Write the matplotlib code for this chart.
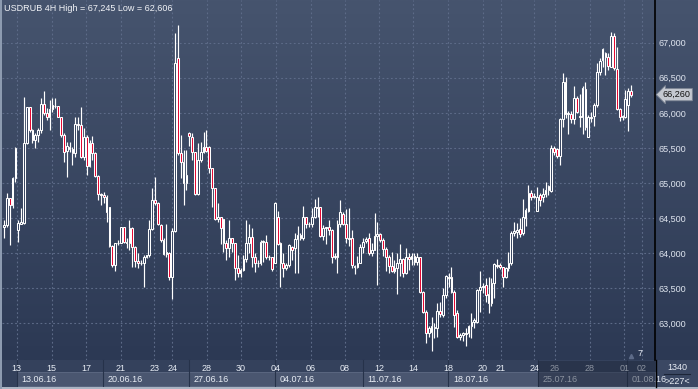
import numpy as np
import matplotlib
matplotlib.use('Agg')
import matplotlib.pyplot as plt
from matplotlib.patches import Rectangle
from matplotlib.colors import LinearSegmentedColormap
import matplotlib.transforms as mtransforms
from matplotlib.ticker import FuncFormatter

plt.rcParams['font.family'] = ['Liberation Sans', 'DejaVu Sans']

opens = [64378, 64402, 64782, 64687, 65067, 64331, 64416, 64426, 65566, 66078,
         65756, 65613, 65684, 65756, 66126, 65993, 65936, 66050, 66098, 66098,
         65946, 65684, 65461, 65518, 65480, 65423, 65841, 65827, 65376, 65660,
         65243, 65566, 65433, 65100, 64844, 64829, 64806, 64663, 64103, 63832,
         64141, 64150, 64369, 64164, 64150, 64355, 64093, 63894, 63856, 63865,
         63951, 63975, 64340, 64758, 64720, 64402, 64188, 63989, 64008, 63656,
         64321, 66777, 65423, 65304, 64996, 65708, 65651, 65447, 64844, 65328,
         65447, 65518, 65518, 65209, 64924, 64483, 64521, 64483, 64150, 64069,
         64212, 64141, 63784, 63713, 63761, 63913, 64141, 64236, 63941, 63865,
         63856, 64164, 64164, 63951, 63941, 63865, 64511, 64150, 63856, 63784,
         63832, 64093, 64069, 64198, 64259, 64212, 64511, 64416, 64416, 64521,
         64654, 64654, 64245, 64355, 64378, 64331, 63941, 63941, 64416, 64559,
         64416, 64212, 64212, 63817, 63798, 63865, 64093, 64178, 64212, 63998,
         64046, 64245, 64274, 64188, 64055, 63941, 63817, 63751, 63784, 63865,
         63922, 63713, 63941, 63913, 63960, 63879, 63941, 63452, 63170, 62858,
         62882, 62929, 62929, 63181, 63119, 63404, 63641, 63665, 63452, 63143,
         62810, 62834, 62849, 62858, 62963, 63025, 63025, 63476, 63523, 63547,
         63419, 63295, 63570, 63832, 63832, 63798, 63656, 63784, 63856, 64293,
         64307, 64340, 64283, 64497, 64606, 64853, 64806, 64606, 64829, 64806,
         64844, 64900, 64891, 65494, 65480, 65385, 65908, 66444, 65984, 65984,
         65908, 66207, 65946, 65946, 66335, 65660, 65922, 65955, 66112, 66587,
         66753, 66858, 66791, 66658, 67095, 66620, 66050, 65936, 65946, 66112,
         66316]

closes = [64402, 64782, 64687, 65067, 65494, 64426, 64449, 65566, 66078, 65756,
          65613, 65684, 65756, 66126, 65993, 65936, 66050, 66112, 66105, 65946,
          65684, 65447, 65528, 65480, 65423, 65841, 65827, 65376, 65660, 65243,
          65566, 65433, 65100, 64844, 64829, 64806, 64592, 64103, 63832, 64141,
          64150, 64369, 64164, 64150, 64355, 64093, 63894, 63856, 63865, 63951,
          63975, 64340, 64758, 64720, 64416, 64188, 63989, 64022, 63656, 64321,
          66706, 65423, 65304, 64996, 65114, 65670, 65447, 64844, 65328, 65447,
          65518, 65461, 65209, 64924, 64483, 64521, 64355, 64150, 64069, 64212,
          64141, 63784, 63713, 63761, 63913, 64141, 64236, 63941, 63865, 63856,
          64164, 64170, 63951, 63941, 63770, 64720, 64131, 63856, 63784, 63832,
          64117, 64046, 64198, 64259, 64212, 64511, 64416, 64420, 64521, 64654,
          64650, 64245, 64355, 64369, 64331, 63941, 63960, 64416, 64592, 64416,
          64212, 64205, 63832, 63808, 63865, 64093, 64164, 64207, 63998, 64046,
          64245, 64274, 64188, 64055, 63941, 63817, 63751, 63784, 63865, 63922,
          63713, 63941, 63913, 63960, 63879, 63941, 63452, 63170, 62858, 62929,
          62963, 62953, 63181, 63133, 63404, 63675, 63665, 63452, 63119, 62810,
          62834, 62858, 62868, 62963, 63025, 63048, 63476, 63523, 63533, 63404,
          63295, 63570, 63846, 63817, 63798, 63656, 63784, 63856, 64293, 64321,
          64331, 64274, 64511, 64616, 64853, 64796, 64815, 64806, 64758, 64844,
          64900, 64958, 65494, 65447, 65385, 65908, 66444, 65984, 65993, 65908,
          66207, 66017, 65955, 66349, 65794, 65946, 65946, 66112, 66587, 66744,
          66905, 66801, 66668, 67095, 66634, 66050, 65936, 65955, 66193, 66316,
          66260]

highs = [64473, 64853, 64782, 65091, 65518, 64473, 64639, 66231, 66078, 66078,
         65765, 65708, 65779, 66207, 66316, 66064, 66183, 66207, 66207, 66098,
         65946, 65708, 65589, 65589, 65518, 65946, 65946, 66078, 65779, 65684,
         65613, 65670, 65447, 65114, 64853, 64877, 64829, 64663, 64117, 64150,
         64188, 64378, 64378, 64212, 64473, 64378, 64103, 63998, 63903, 63975,
         63975, 64473, 64924, 65091, 64735, 64416, 64212, 64416, 64022, 64355,
         67133, 67245, 65684, 65471, 65471, 65732, 65708, 65447, 65566, 65589,
         65732, 65756, 65528, 65209, 64924, 64711, 64521, 64483, 64188, 64473,
         64212, 64150, 63975, 63784, 63975, 64473, 64416, 64355, 63998, 63903,
         64188, 64188, 64259, 63975, 63951, 64735, 64606, 64164, 63998, 63856,
         64131, 64103, 64283, 64388, 64283, 64673, 64521, 64449, 64639, 64768,
         64806, 64663, 64402, 64378, 64473, 64340, 63998, 64473, 64758, 64592,
         64625, 64639, 64331, 63832, 63960, 64131, 64212, 64236, 64283, 64141,
         64578, 64449, 64283, 64212, 64093, 63975, 64022, 63903, 63998, 64131,
         63927, 64069, 63998, 63998, 64008, 64008, 63951, 63466, 63190, 62963,
         63095, 63000, 63285, 63309, 63499, 63689, 63713, 63798, 63476, 63190,
         62858, 62882, 62929, 62977, 63143, 63072, 63485, 63751, 63570, 63641,
         63665, 63641, 63865, 63913, 63856, 63808, 63808, 64022, 64321, 64449,
         64435, 64497, 64768, 64639, 64972, 64900, 64853, 64948, 64853, 64924,
         65019, 64972, 65542, 65528, 65494, 65922, 66563, 66516, 66031, 66031,
         66383, 66240, 66269, 66383, 66444, 65969, 66017, 66135, 66706, 66777,
         66919, 66872, 66848, 67157, 67133, 66943, 66064, 65969, 66326, 66349,
         66397]

lows = [64212, 64378, 64117, 64639, 65019, 64164, 64416, 64416, 65556, 65732,
        65575, 65494, 65589, 65708, 65969, 65898, 65756, 66017, 66064, 65936,
        65660, 65304, 65091, 65447, 65257, 65376, 65756, 65352, 65328, 65114,
        65233, 65328, 65091, 64758, 64687, 64711, 64449, 64093, 63808, 63751,
        64117, 64141, 64150, 64069, 64046, 63808, 63808, 63784, 63832, 63523,
        63927, 63941, 64331, 64687, 64402, 64164, 63975, 63951, 63618, 63343,
        64307, 65399, 65067, 64687, 64901, 65528, 65328, 64829, 64829, 65304,
        65433, 65447, 65148, 64663, 64473, 64449, 64131, 64022, 63903, 63941,
        64022, 63618, 63666, 63656, 63751, 63879, 63998, 63798, 63737, 63808,
        63832, 63879, 63913, 63903, 63751, 63856, 64117, 63523, 63665, 63761,
        63808, 63903, 63723, 63723, 64188, 64188, 64355, 64378, 64378, 64497,
        64511, 64236, 64188, 64131, 64259, 63856, 63913, 63713, 64378, 64402,
        64150, 64103, 63784, 63704, 63784, 63856, 63998, 64141, 63975, 63960,
        64046, 63547, 64164, 63960, 63751, 63723, 63737, 63713, 63419, 63675,
        63666, 63704, 63761, 63832, 63832, 63832, 63438, 63156, 62725, 62810,
        62606, 62787, 62810, 63095, 63095, 63357, 63523, 63428, 62944, 62787,
        62763, 62754, 62678, 62810, 62787, 62929, 63000, 63170, 63428, 63309,
        63156, 63248, 63357, 63784, 63770, 63523, 63641, 63751, 63832, 64245,
        64212, 64236, 64259, 64388, 64592, 64758, 64782, 64606, 64673, 64735,
        64806, 64829, 64877, 65399, 65352, 65257, 65803, 65922, 65699, 65851,
        65841, 65993, 65794, 65699, 65756, 65651, 65874, 65813, 66088, 66539,
        66658, 66539, 66610, 66649, 66610, 66040, 65888, 65898, 65922, 65746,
        66221]

day_tick_pos = [4.5, 16.7, 28.8, 40.9, 52.7, 59.1, 71.1, 83.2, 95.3, 107.6, 119.6,
                131.7, 143.6, 155.9, 168.0, 174.3, 186.1, 193.3, 205.6, 217.6, 223.8]
day_tick_labels = ['13', '15', '17', '21', '23', '24', '28', '30', '04', '06', '08',
                   '12', '14', '18', '20', '21', '24', '26', '28', '01', '02']
week_starts = [4.6, 34.8, 65.0, 95.1, 125.9, 155.9, 187.5, 218.7]
week_labels = ['13.06.16', '20.06.16', '27.06.16', '04.07.16', '11.07.16',
               '18.07.16', '25.07.16', '01.08.16']
price_ticks = [63000, 63500, 64000, 64500, 65000, 65500, 66000, 66500, 67000]
title = 'USDRUB 4H High = 67,245 Low = 62,606'

W, H = 698, 389
fig = plt.figure(figsize=(W / 100, H / 100), dpi=100)
fig.patch.set_facecolor('#34415c')

# decorative background axes in pixel coords
deco = fig.add_axes([0, 0, 1, 1], zorder=0)
deco.set_xlim(0, W)
deco.set_ylim(H, 0)
deco.axis('off')
cmap = LinearSegmentedColormap.from_list('bg', ['#46546e', '#2c3954'])
grad = np.linspace(0, 1, 256).reshape(-1, 1)
deco.imshow(grad, cmap=cmap, extent=[0, W, 360, 0], aspect='auto', zorder=0)
deco.add_patch(Rectangle((0, 360), W, 29, facecolor='#34415c', edgecolor='none', zorder=1))
deco.add_patch(Rectangle((656, 360), 42, 29, facecolor='#3b4863', edgecolor='none', zorder=1))

# main axes
pl, pr, pt, pb = 2, 655, 0, 360
ax = fig.add_axes([pl / W, 1 - pb / H, (pr - pl) / W, (pb - pt) / H], zorder=1)
ax.set_facecolor('none')
ax.set_xlim(-0.7, 228.4)
ax.set_ylim(62480, 67608)
for s in ['top', 'left', 'bottom']:
    ax.spines[s].set_visible(False)
ax.spines['right'].set_color('#000000')
ax.spines['right'].set_linewidth(1.2)

o = np.array(opens, dtype=float)
c = np.array(closes, dtype=float)
h = np.maximum.reduce([np.array(highs, float), o, c])
l = np.minimum.reduce([np.array(lows, float), o, c])
x = np.arange(len(o))
top = np.maximum(o, c)
bot = np.minimum(o, c)
bear = c < o

grid_kw = dict(color='#5d6b88', linewidth=0.8, linestyle=(0, (1.6, 2.2)))
for p in price_ticks:
    ax.axhline(p, zorder=1, **grid_kw)
for d in day_tick_pos:
    ax.axvline(d, zorder=1, **grid_kw)

ax.vlines(x, top, h, color='white', linewidth=0.85, zorder=3)
ax.vlines(x, l, bot, color='white', linewidth=0.85, zorder=3)
fc = np.where(bear, '#e3002b', '#35425e')
ax.bar(x, np.maximum(top - bot, 1.5), bottom=bot, width=0.62, color=fc,
       edgecolor='white', linewidth=0.75, zorder=4)

# axes ticks
ax.yaxis.tick_right()
ax.set_yticks(price_ticks)
ax.yaxis.set_major_formatter(FuncFormatter(lambda v, _: f'{int(v):,}'))
ax.tick_params(axis='y', length=0, pad=2.2, labelsize=6.5, labelcolor='#dfe5ef')
ax.set_xticks(day_tick_pos)
ax.set_xticklabels(day_tick_labels)
ax.tick_params(axis='x', length=0, pad=2.6, labelsize=6.5, labelcolor='#e8edf5')

# week boxes
bt = mtransforms.blended_transform_factory(ax.transData, ax.transAxes)
bounds = week_starts + [228.4]
for i, (ws, lab) in enumerate(zip(week_starts, week_labels)):
    we = bounds[i + 1]
    ax.add_patch(Rectangle((ws, -0.0722), we - ws, 0.0389, transform=bt,
                           facecolor='#4a5670', edgecolor='#5f6b84', linewidth=0.6,
                           clip_on=False, zorder=0))
    ax.text(ws + 1.6, -0.0535, lab, transform=bt, fontsize=6.5, color='#e8edf5',
            va='center', ha='left', clip_on=False)
    ax.plot([ws, ws], [-0.0722, 0], transform=bt, color='#26324a', linewidth=0.8,
            clip_on=False, zorder=0)

# current price label
yt = mtransforms.blended_transform_factory(ax.transAxes, ax.transData)
ax.text(1.012, c[-1], f'{int(c[-1]):,}', transform=yt, fontsize=6.5, color='#111111',
        va='center', ha='left',
        bbox=dict(boxstyle='larrow,pad=0.18', facecolor='#c4c8d0', edgecolor='#7d8594',
                  linewidth=0.6), zorder=6)

# overlay (dimmed area on time axis, right footer)
ov = fig.add_axes([0, 0, 1, 1], zorder=3)
ov.set_xlim(0, W)
ov.set_ylim(H, 0)
ov.axis('off')
ov.set_facecolor('none')
ov.add_patch(Rectangle((538, 361), 117, 26, facecolor='#1c2538', alpha=0.45, edgecolor='none'))
ov.text(677, 368, '1340', fontsize=6.5, color='#e8edf5', ha='center', va='center')
ov.plot([664, 690], [374, 374], color='#1c2538', linewidth=0.8)
ov.text(677, 381, '>227<', fontsize=6.5, color='#e8edf5', ha='center', va='center')
ov.text(640, 354, '7', fontsize=6.5, color='#e8edf5', ha='center', va='center')
ov.plot([631], [356], marker='^', markersize=3, color='#5d6b88')
ov.add_patch(Rectangle((0, 386.5), W, 2.5, facecolor='#aab4c3', edgecolor='none'))
ov.add_patch(Rectangle((0, 0), 1.5, H, facecolor='#8d9bb0', edgecolor='none'))
ov.plot([655.5, 655.5], [360, 387], color='#000000', linewidth=1.0)

fig.text(4 / W, 1 - 8.5 / H, title, fontsize=6.5, color='#f2f4f8', ha='left', va='center')

fig.savefig('out.png', dpi=100, facecolor=fig.get_facecolor())
